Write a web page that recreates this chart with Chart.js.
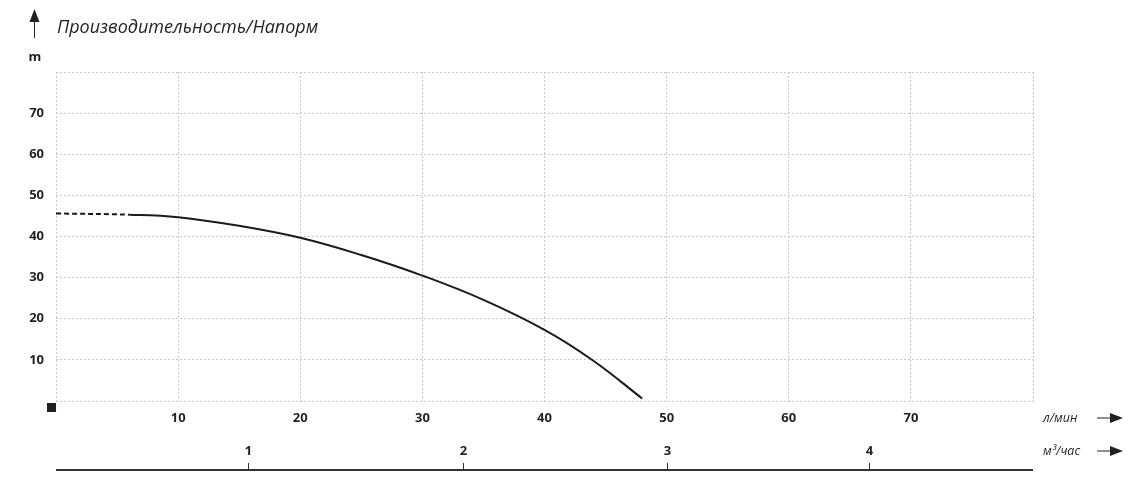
<!DOCTYPE html>
<html>
<head>
<meta charset="utf-8">
<script src="https://cdn.jsdelivr.net/npm/chart.js@4/dist/chart.umd.min.js"></script>
<style>
  html, body { margin: 0; padding: 0; background: #fff; }
  #wrap { width: 1148px; height: 494px; }
</style>
</head>
<body>
<div id="wrap"><canvas id="grafico" width="1148" height="494"></canvas></div>
<script>
// Кривая насоса: подача (л/мин) -> напор (м)
const flowLpm = [0, 6, 10, 15, 20, 25, 30, 35, 40, 44, 48];
const headM   = [45.6, 45.3, 44.7, 42.6, 39.7, 35.5, 30.5, 24.6, 17.3, 9.8, 0.6];

// Подписи осей
const titulo = 'Производительность/Напорм';
const unidadeY = 'm';
const unidadeLpm = 'л/мин';
const unidadeM3 = 'м³/час';

// Вторая шкала м³/час (положение в л/мин, как на рисунке)
const m3Labels = ['1', '2', '3', '4'];
const m3AtLpm = [15.7, 33.3, 50, 66.6];

const COR_TEXTO = '#231f20';
const FONTE = '"Open Sans", "Noto Sans", sans-serif';

function seta(ctx, x1, y1, x2, y2) {
    const ang = Math.atan2(y2 - y1, x2 - x1);
    ctx.beginPath();
    ctx.moveTo(x1, y1);
    ctx.lineTo(x2 - 6 * Math.cos(ang), y2 - 6 * Math.sin(ang));
    ctx.stroke();
    ctx.beginPath();
    ctx.moveTo(x2, y2);
    ctx.lineTo(x2 - 13 * Math.cos(ang) + 5 * Math.sin(ang), y2 - 13 * Math.sin(ang) - 5 * Math.cos(ang));
    ctx.lineTo(x2 - 13 * Math.cos(ang) - 5 * Math.sin(ang), y2 - 13 * Math.sin(ang) + 5 * Math.cos(ang));
    ctx.closePath();
    ctx.fill();
}

const extras = {
    id: 'extras',
    afterDraw(chart) {
        const ctx = chart.ctx;
        const area = chart.chartArea;
        const sx = chart.scales.x;
        ctx.save();
        ctx.fillStyle = COR_TEXTO;
        ctx.strokeStyle = COR_TEXTO;

        // título e seta vertical
        ctx.font = 'italic 18px ' + FONTE;
        ctx.textBaseline = 'middle';
        ctx.textAlign = 'left';
        ctx.fillText(titulo, 57, 28);
        ctx.lineWidth = 1;
        seta(ctx, 34.5, 38, 34.5, 9);

        // unidade do eixo y
        ctx.font = 'bold 13px ' + FONTE;
        ctx.textAlign = 'center';
        ctx.fillText(unidadeY, 35, 57);

        // quadrado preto na origem
        ctx.fillRect(area.left - 9, area.bottom + 2, 9, 9);

        // unidades e setas da direita
        const yLpm = sx.bottom - 76;
        const yM3 = sx.bottom - 43;
        ctx.font = 'italic 12.5px ' + FONTE;
        ctx.textAlign = 'left';
        ctx.fillText(unidadeLpm, 1043, yLpm);
        ctx.fillText(unidadeM3, 1043, yM3);
        ctx.lineWidth = 1;
        seta(ctx, 1097, yLpm, 1123, yLpm);
        seta(ctx, 1097, yM3, 1123, yM3);

        // eixo m³/час
        const yLinha = sx.bottom - 24;
        ctx.strokeStyle = '#333';
        ctx.lineWidth = 2;
        ctx.beginPath();
        ctx.moveTo(area.left, yLinha);
        ctx.lineTo(area.right, yLinha);
        ctx.stroke();
        ctx.lineWidth = 1;
        ctx.font = 'bold 13px ' + FONTE;
        ctx.textAlign = 'center';
        m3Labels.forEach((lab, i) => {
            const px = Math.round(sx.getPixelForValue(m3AtLpm[i])) + 0.5;
            ctx.beginPath();
            ctx.moveTo(px, yLinha - 7);
            ctx.lineTo(px, yLinha);
            ctx.stroke();
            ctx.fillText(lab, px, yLinha - 19);
        });
        ctx.restore();
    }
};

new Chart(document.getElementById('grafico'), {
    type: 'line',
    data: {
        datasets: [{
            data: flowLpm.map((q, i) => ({ x: q, y: headM[i] })),
            borderColor: '#1a1a1a',
            borderWidth: 2,
            pointRadius: 0,
            tension: 0.4,
            fill: false,
            segment: {
                borderDash: c => c.p0DataIndex === 0 ? [5, 3] : undefined
            }
        }]
    },
    options: {
        responsive: false,
        animation: false,
        devicePixelRatio: 1,
        layout: { padding: { top: 72, right: 115, left: 0, bottom: 0 } },
        plugins: { legend: { display: false }, tooltip: { enabled: false } },
        scales: {
            x: {
                type: 'linear',
                min: 0,
                max: 80,
                afterFit: s => { s.height = 93; },
                ticks: {
                    stepSize: 10,
                    padding: 9,
                    maxRotation: 0,
                    color: COR_TEXTO,
                    font: { family: FONTE, size: 13, weight: 'bold' },
                    callback: v => (v === 0 || v === 80) ? '' : v
                },
                grid: { color: '#c8c8c8', lineWidth: 1, drawTicks: false },
                border: { display: false, dash: [2, 2] }
            },
            y: {
                min: 0,
                max: 80,
                afterFit: s => { s.width = 56; },
                ticks: {
                    stepSize: 10,
                    padding: 12,
                    color: COR_TEXTO,
                    font: { family: FONTE, size: 13, weight: 'bold' },
                    callback: v => (v === 0 || v === 80) ? '' : v
                },
                grid: { color: '#c8c8c8', lineWidth: 1, drawTicks: false },
                border: { display: false, dash: [2, 2] }
            }
        }
    },
    plugins: [extras]
});
</script>
</body>
</html>
